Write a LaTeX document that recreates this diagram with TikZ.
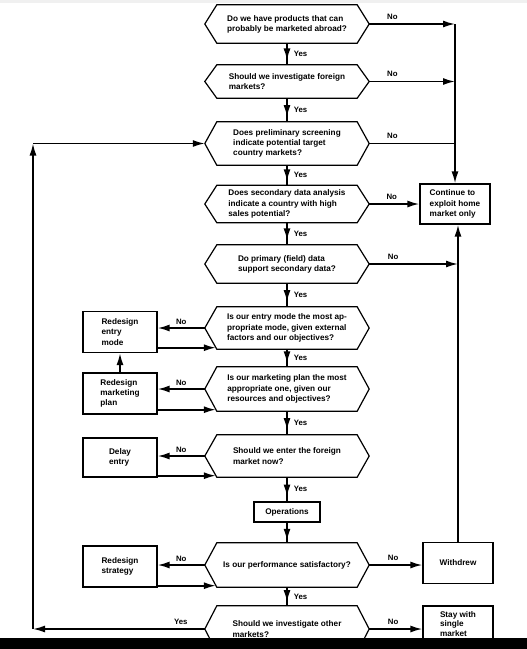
\documentclass[tikz,border=0pt]{standalone}
\usepackage{fontspec}
\setmainfont{Liberation Sans}
\usetikzlibrary{arrows.meta,decorations.markings,calc}
\begin{document}
\begin{tikzpicture}[x=1pt,y=-1pt,
  every node/.style={font=\bfseries\fontsize{8.2}{10.2}\selectfont, inner sep=0pt},
  lbl/.style={font=\bfseries\fontsize{7.8}{9}\selectfont},
  hexnode/.style={minimum width=164pt, align=left},
  boxnode/.style={draw, line width=1.2pt, align=left},
  shp/.style={line width=1.2pt},
  ln/.style={line width=1.7pt},
  arr/.style={line width=1.7pt, -{Latex[length=12pt,width=7pt]}},
  midarr/.style={line width=1.7pt, postaction=decorate,
    decoration={markings, mark=at position #1 with {\arrow{Latex[length=12pt,width=7pt]}}}},
  midarr/.default=0.8
]
\useasboundingbox (0,0) rectangle (527,649);
\fill[gray!12] (0,0) rectangle (527,2.5);

% decision hexagons
\node[hexnode, minimum height=38pt] (h1) at (287,24) {Do we have products that can\\probably be marketed abroad?};
\node[hexnode, minimum height=33pt] (h2) at (287,81.5) {Should we investigate foreign\\markets?};
\node[hexnode, minimum height=43pt] (h3) at (287,143.5) {Does preliminary screening\\indicate potential target\\country markets?};
\node[hexnode, minimum height=37pt] (h4) at (287,204) {Does secondary data analysis\\indicate a country with high\\sales potential?};
\node[hexnode, minimum height=38pt] (h5) at (287,264) {Do primary (field) data\\support secondary data?};
\node[hexnode, minimum height=42pt] (h6) at (287,328) {Is our entry mode the most ap-\\propriate mode, given external\\factors and our objectives?};
\node[hexnode, minimum height=44pt] (h7) at (287,389) {Is our marketing plan the most\\appropriate one, given our\\resources and objectives?};
\node[hexnode, minimum height=42pt] (h8) at (287,456) {Should we enter the foreign\\market now?};
\node[hexnode, minimum height=44pt] (h9) at (287,565) {Is our performance satisfactory?};
\node[hexnode, minimum height=46pt] (h10) at (287,629) {Should we investigate other\\markets?};

\foreach \n in {h1,h2,h3,h4,h5,h6,h7,h8,h9,h10}
  \draw[shp] (\n.west) -- ([xshift=12pt]\n.north west) -- ([xshift=-12pt]\n.north east)
    -- (\n.east) -- ([xshift=-12pt]\n.south east) -- ([xshift=12pt]\n.south west) -- cycle;

% boxes
\node[boxnode, minimum width=74pt, minimum height=41pt] (b1) at (120,332) {Redesign\\entry\\mode};
\node[boxnode, minimum width=74pt, minimum height=41pt] (b2) at (120,393.5) {Redesign\\marketing\\plan};
\node[boxnode, minimum width=74pt, minimum height=39pt] (b3) at (120,457.5) {Delay\\entry};
\node[boxnode, minimum width=74pt, minimum height=41pt] (b4) at (120,566.5) {Redesign\\strategy};
\node[boxnode, minimum width=70pt, minimum height=40pt] (c) at (455,204) {Continue to\\exploit home\\market only};
\node[boxnode, minimum width=70pt, minimum height=41pt] (w) at (458,563) {Withdrew};
\node[boxnode, minimum width=70pt, minimum height=36pt, font=\bfseries\fontsize{8.2}{9.5}\selectfont] (s) at (458,624) {Stay with\\single\\market};
\node[boxnode, minimum width=66pt, minimum height=20pt] (ops) at (287,512) {Operations};

% main Yes chain
\foreach \a/\b in {h1/h2,h2/h3,h3/h4,h4/h5,h5/h6,h6/h7,h7/h8,h8/ops,h9/h10}
  \draw[midarr] (\a.south) -- (\b.north) node[lbl, midway, anchor=west, xshift=6pt] {Yes};
\draw[midarr=0.9] (ops.south) -- (h9.north);

% right side
\coordinate (rt) at (455,24);
\draw[arr] (h1.east) -- (rt) node[lbl, above=4pt, pos=0.27] {No};
\draw[arr] (h2.east) -- (h2.east -| rt) node[lbl, above=4pt, pos=0.27] {No};
\draw[ln] (h3.east) -- (h3.east -| rt) node[lbl, above=4pt, pos=0.27] {No};
\draw[arr] (rt) -- (c.north);
\draw[arr] (h4.east) -- (c.west) node[lbl, above=4pt, pos=0.45] {No};
\draw[arr] (h5.east) -- (h5.east -| w.north) node[lbl, above=4pt, pos=0.27] {No};
\draw[arr] (w.north) -- (w.north |- c.south);
\draw[arr] (h9.east) -- (h9.east -| w.west) node[lbl, above=4pt, pos=0.45] {No};
\draw[arr] (h10.east) -- (h10.east -| s.west) node[lbl, above=4pt, pos=0.45] {No};

% left side: No branches and returns
\foreach \h/\b in {h6/b1,h7/b2,h8/b3,h9/b4} {
  \draw[arr] (\h.west) -- (\h.west -| \b.east) node[lbl, above=3pt, midway] {No};
  \draw[arr] ($(\h.south west -| \b.east)+(0,-1.5)$) -- ($(\h.south west)+(11,-1.5)$);
}
\draw[arr] (b2.north) -- (b1.south);

% loop back
\coordinate (lb) at (33,629);
\coordinate (lt) at (33,143.5);
\draw[arr] (h10.west) -- (lb) node[lbl, above=4pt, pos=0.14] {Yes};
\draw[arr] (lb) -- (lt);
\draw[arr] (lt) -- (h3.west);

% bottom band
\fill[black] (0,637.5) rectangle (527,649);
\end{tikzpicture}
\end{document}
